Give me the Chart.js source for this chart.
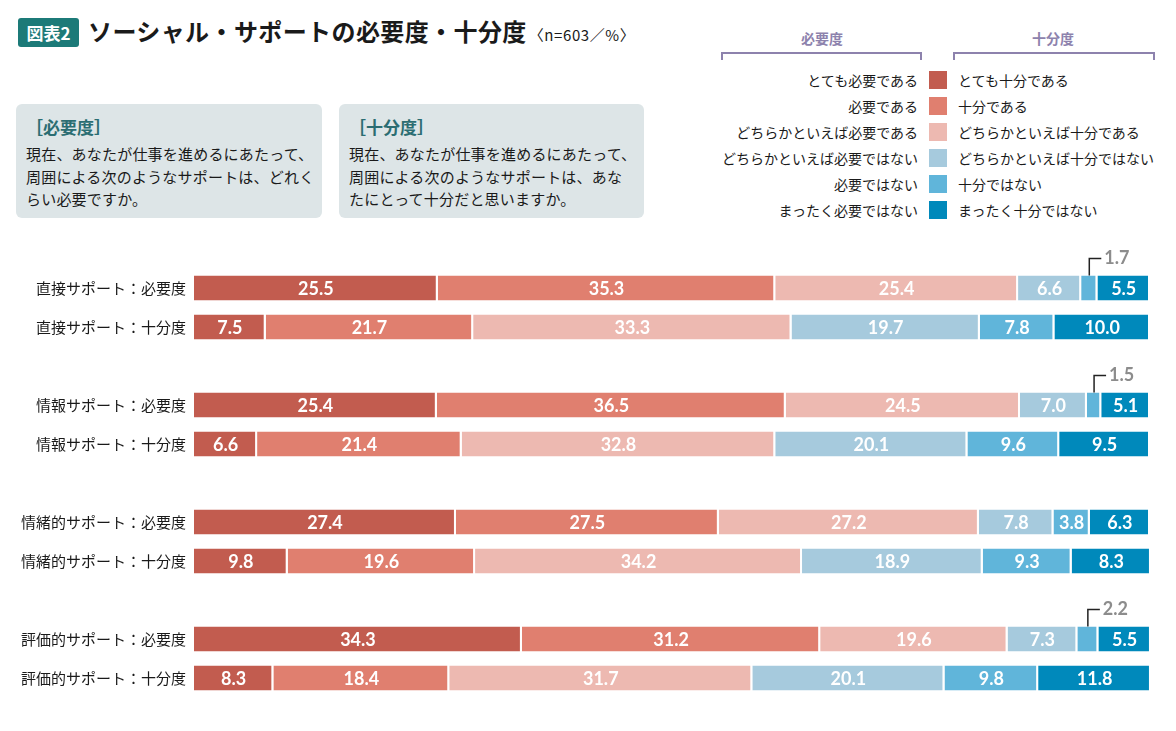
<!DOCTYPE html>
<html lang="ja">
<head>
<meta charset="utf-8">
<script src="https://cdn.jsdelivr.net/npm/chart.js@4.4.1/dist/chart.umd.min.js"></script>
<style>
  body { margin: 0; width: 1176px; height: 731px; background: #fff; position: relative; overflow: hidden;
         font-family: "Noto Sans CJK JP", sans-serif; color: #1a1a1a; }
  .tag { position: absolute; left: 18px; top: 18px; width: 61px; height: 29px; background: #1c7a78; color: #fff;
         border-radius: 3px; font-weight: bold; font-size: 17px; line-height: 29px; text-align: center; }
  .title { position: absolute; left: 88px; top: 13px; font-size: 24px; font-weight: bold; white-space: nowrap; letter-spacing: 0.4px; }
  .title small { font-size: 15px; font-weight: normal; margin-left: 2px; letter-spacing: 0.6px; }
  .box { position: absolute; top: 104px; height: 114px; width: 306px; background: #dde5e7; border-radius: 6px; }
  .box h3 { margin: 0; position: absolute; left: 10px; top: 10px; font-size: 17px; color: #2b6d72; font-weight: bold; }
  .box p { margin: 0; position: absolute; left: 10px; top: 39px; font-size: 15px; line-height: 22.5px; letter-spacing: 0.2px; }
  .lhead { position: absolute; top: 28px; font-size: 14px; font-weight: bold; color: #8d82ad; width: 200px; text-align: center; }
  .bracket { position: absolute; top: 52px; height: 8px; border: 2px solid #8d82ad; border-bottom: none; box-sizing: border-box; }
  .lrow { position: absolute; font-size: 14px; white-space: nowrap; }
  .sw { position: absolute; width: 18px; height: 18px; }
  #wrap { position: absolute; left: 0; top: 240px; width: 1176px; height: 491px; }
</style>
</head>
<body>
<div class="tag">図表2</div>
<div class="title">ソーシャル・サポートの必要度・十分度<small>〈n=603／%〉</small></div>

<div class="box" style="left:16px"><h3>［必要度］</h3>
  <p>現在、あなたが仕事を進めるにあたって、<br>周囲による次のようなサポートは、どれく<br>らい必要ですか。</p></div>
<div class="box" style="left:339px; width:305px"><h3>［十分度］</h3>
  <p>現在、あなたが仕事を進めるにあたって、<br>周囲による次のようなサポートは、あな<br>たにとって十分だと思いますか。</p></div>

<div class="lhead" style="left:722px">必要度</div>
<div class="lhead" style="left:953px">十分度</div>
<div class="bracket" style="left:721px; width:201px"></div>
<div class="bracket" style="left:953px; width:202px"></div>
<div id="legend"></div>

<div id="wrap"><canvas id="chart"></canvas></div>

<script>
  // 行ラベル（空文字はグループ間のすき間）
  const rowLabels = [
    '直接サポート：必要度', '直接サポート：十分度', '',
    '情報サポート：必要度', '情報サポート：十分度', '',
    '情緒的サポート：必要度', '情緒的サポート：十分度', '',
    '評価的サポート：必要度', '評価的サポート：十分度'
  ];

  const needLabels = ['とても必要である', '必要である', 'どちらかといえば必要である',
    'どちらかといえば必要ではない', '必要ではない', 'まったく必要ではない'];
  const enoughLabels = ['とても十分である', '十分である', 'どちらかといえば十分である',
    'どちらかといえば十分ではない', '十分ではない', 'まったく十分ではない'];

  const colors = ['#c25c4f', '#e07f6f', '#edb9b1', '#a6cadd', '#60b5da', '#0089bb'];

  // 各回答カテゴリの値（行順）
  const veryMuch   = [25.5, 7.5, null, 25.4, 6.6, null, 27.4, 9.8, null, 34.3, 8.3];
  const yesLevel   = [35.3, 21.7, null, 36.5, 21.4, null, 27.5, 19.6, null, 31.2, 18.4];
  const ratherYes  = [25.4, 33.3, null, 24.5, 32.8, null, 27.2, 34.2, null, 19.6, 31.7];
  const ratherNo   = [6.6, 19.7, null, 7.0, 20.1, null, 7.8, 18.9, null, 7.3, 20.1];
  const noLevel    = [1.7, 7.8, null, 1.5, 9.6, null, 3.8, 9.3, null, 2.2, 9.8];
  const notAtAll   = [5.5, 10.0, null, 5.1, 9.5, null, 6.3, 8.3, null, 5.5, 11.8];

  const seriesValues = [veryMuch, yesLevel, ratherYes, ratherNo, noLevel, notAtAll];

  // 凡例
  const legend = document.getElementById('legend');
  needLabels.forEach((t, i) => {
    const y = 71 + i * 26;
    legend.insertAdjacentHTML('beforeend',
      `<div class="lrow" style="right:${1176 - 918}px; top:${y - 1}px">${t}</div>` +
      `<div class="sw" style="left:929px; top:${y}px; background:${colors[i]}"></div>` +
      `<div class="lrow" style="left:958px; top:${y - 1}px">${enoughLabels[i]}</div>`);
  });

  // 値ラベル（小さい値は引き出し線で外側に）
  const valueLabels = {
    id: 'valueLabels',
    afterDatasetsDraw(chart) {
      const ctx = chart.ctx;
      ctx.save();
      ctx.textBaseline = 'middle';
      chart.data.datasets.forEach((ds, i) => {
        chart.getDatasetMeta(i).data.forEach((bar, j) => {
          const v = ds.data[j];
          if (v == null) return;
          const p = bar.getProps(['x', 'y', 'base', 'height'], true);
          const cx = (p.x + p.base) / 2;
          if (v < 3) {
            const top = p.y - p.height / 2;
            ctx.strokeStyle = '#222';
            ctx.lineWidth = 1.5;
            ctx.beginPath();
            ctx.moveTo(cx, top);
            ctx.lineTo(cx, top - 17);
            ctx.lineTo(cx + 12, top - 17);
            ctx.stroke();
            ctx.fillStyle = '#8c8c8c';
            ctx.textAlign = 'left';
            ctx.font = 'bold 18px Lato';
            ctx.fillText(v.toFixed(1), cx + 15, top - 17);
          } else {
            ctx.fillStyle = '#fff';
            ctx.textAlign = 'center';
            ctx.font = 'bold 18px Lato';
            ctx.fillText(v.toFixed(1), cx, p.y + 1);
          }
        });
      });
      ctx.restore();
    }
  };

  new Chart(document.getElementById('chart'), {
    type: 'bar',
    data: {
      labels: rowLabels,
      datasets: seriesValues.map((vals, i) => ({
        label: needLabels[i],
        data: vals,
        backgroundColor: colors[i],
        borderColor: '#fff',
        borderWidth: { left: 0, top: 0, bottom: 0, right: 2 },
        borderSkipped: false,
        barPercentage: 0.64,
        categoryPercentage: 1
      }))
    },
    options: {
      indexAxis: 'y',
      responsive: true,
      maintainAspectRatio: false,
      animation: false,
      layout: { padding: { top: 28.5, bottom: 33.5, right: 26, left: 0 } },
      scales: {
        x: { stacked: true, min: 0, max: 100, display: false },
        y: {
          stacked: true,
          grid: { display: false, drawTicks: false },
          border: { display: false },
          ticks: { color: '#1a1a1a', padding: 8, font: { family: '"Noto Sans CJK JP"', size: 15 } },
          afterFit: s => { s.width = 194; }
        }
      },
      plugins: { legend: { display: false }, tooltip: { enabled: false } }
    },
    plugins: [valueLabels]
  });
</script>
</body>
</html>
